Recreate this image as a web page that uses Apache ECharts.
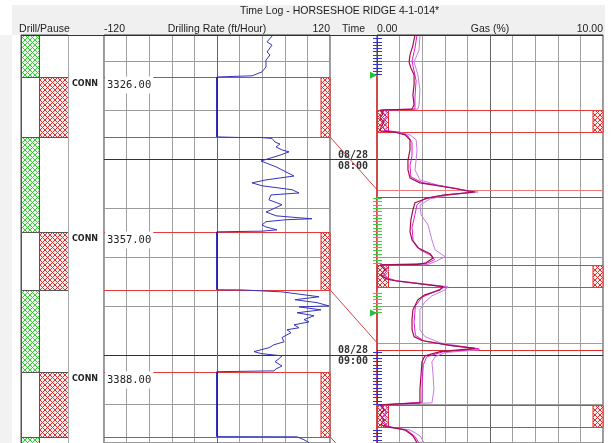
<!DOCTYPE html>
<html><head><meta charset="utf-8">
<script src="https://cdn.jsdelivr.net/npm/echarts@6/dist/echarts.min.js"></script>
<style>html,body{margin:0;padding:0;background:#fff}#c{width:615px;height:443px}</style>
</head><body><div id="c"></div>
<script>
// time axis: minutes after midnight on 08/28
const timeMin = 442, timeMax = 567;
const quarterLines = [450, 465, 495, 510, 525, 555];
const hourLines = [480, 540];
const hourLabels = ['08/28\n08:00', '08/28\n09:00'];
const titleText = 'Time Log - HORSESHOE RIDGE 4-1-014*';

// drill / pause blocks (0 = drilling, 1 = pause)
const blockStart = [442, 454.86, 473.22, 502.3, 520.05, 545.15, 565.05];
const blockEnd   = [454.86, 473.22, 502.3, 520.05, 545.15, 565.05, 567];
const blockKind  = [0, 1, 0, 1, 0, 1, 0];

// connections
const connStart = [454.86, 502.3, 545.15];
const connEnd   = [473.22, 520.05, 565.05];
const connDepth = ['3326.00', '3357.00', '3388.00'];
const connLabel = 'CONN';

// lagged connections in the gas track
const gasConnStart = [465.0, 512.4, 555.3];
const gasConnEnd   = [471.8, 519.1, 562.0];
const lagStart = [489.4, 536.3, 581.3];
const lagEnd   = [491.6, 538.4, 583.5];

// tick segments on the gas track edge (0 = blue, 1 = green)
const tickStart = [442, 491.6, 520.05, 538.4, 563.0];
const tickEnd   = [454.0, 512.2, 527.0, 555.0, 567];
const tickKind  = [0, 1, 1, 0, 0];
const markerTimes = [454.3, 527.2];
const gasEdge = [454.3, 567];

const rateTicks = [-120, 120];
const gasTicks = [0, 10];

// drilling rate (ft/hour, time)
const drillRate = [
 [59.5,442.0],[53.1,444.1],[58.4,445.1],[53.1,447.2],[56.3,448.1],[52.0,449.7],[52.0,451.8],[47.8,453.3],[37.2,454.5],[0,454.86],
 [0,473.22],[23.4,473.4],[46.7,473.4],[58.4,473.7],[61.6,474.8],[66.9,475.4],[62.7,476.3],[69.0,477.2],[76.5,477.8],[68.0,478.7],
 [46.7,480.6],[44.6,481.2],[62.7,482.4],[81.8,485.2],[52.0,486.4],[37.2,487.3],[47.8,488.2],[79.7,489.4],[87.1,490.4],[57.3,491.0],
 [55.2,492.5],[69.0,494.0],[57.3,495.6],[52.0,496.2],[62.7,497.4],[87.1,498.0],[100.9,498.3],[73.3,498.6],[52.0,499.2],[47.8,500.2],
 [52.0,500.8],[63.7,501.7],[47.8,502.1],[0,502.3],
 [0,520.05],[26.6,520.1],[69.0,520.7],[108.3,522.2],[82.8,523.1],[106.2,524.0],[118.9,525.0],[87.1,525.3],[110.4,526.2],[85.0,527.1],
 [103.0,528.0],[92.4,529.2],[97.7,529.9],[81.8,530.8],[87.1,531.7],[74.3,532.3],[78.6,533.2],[69.0,534.7],[71.2,536.0],[60.5,536.9],
 [55.2,537.8],[39.3,539.0],[46.7,539.6],[69.0,540.3],[65.8,541.2],[61.6,542.1],[69.0,543.4],[62.7,544.3],[60.5,544.9],[0,545.15],
 [0,565.05],[85.0,565.1],[92.4,566.0],[97.7,566.9]
];

// gas (% , time)
const gasA = [
 [1.68,442.0],[1.59,445.1],[1.46,448.1],[1.42,450.3],[1.50,452.1],[1.64,454.2],[1.64,457.3],[1.59,460.4],[1.64,463.4],[1.55,464.7],
 [0.13,465.0],[0.27,466.2],[0.13,467.4],[0.31,468.6],[0.18,470.2],[0.13,471.4],[0.80,471.8],[1.24,472.6],[1.46,474.1],[1.46,477.2],
 [1.37,480.3],[1.37,483.3],[1.46,485.8],[1.90,487.3],[3.23,488.8],[4.34,490.1],[3.01,491.0],[2.26,491.9],[1.68,493.4],[1.59,495.6],
 [1.50,498.6],[1.46,502.3],[1.55,504.8],[1.81,507.2],[2.35,509.0],[2.48,510.3],[2.17,511.8],[1.81,512.3],
 [0.13,512.4],[0.35,513.9],[0.18,515.5],[0.40,516.7],[0.80,517.3],[2.92,519.1],[2.79,520.1],[2.12,521.6],[1.81,523.1],[1.59,526.2],
 [1.55,529.2],[1.55,532.3],[1.64,534.4],[1.99,535.6],[3.23,537.1],[4.34,538.0],[2.79,539.0],[2.12,540.3],[1.99,542.1],[1.95,546.1],
 [1.90,550.7],[1.90,554.7],[0.13,555.3],[0.31,556.8],[0.13,558.3],[0.31,559.9],[0.18,561.4],[0.40,562.0],[1.24,563.0],[1.59,564.8],[1.77,566.9]
];
const gasB = [
 [1.90,442.0],[1.86,446.6],[1.64,450.3],[1.81,454.2],[1.90,458.8],[1.86,463.4],[1.81,464.7],[0.35,465.0],[0.49,466.8],[0.31,468.3],
 [0.44,469.9],[0.35,471.4],[1.02,471.8],[1.46,472.6],[1.73,474.1],[1.77,477.2],[1.73,480.3],[1.68,483.3],[1.90,486.4],[2.79,488.2],
 [4.12,489.8],[4.47,490.1],[3.23,491.0],[2.35,492.2],[1.90,494.1],[1.95,497.1],[2.26,500.2],[2.43,504.8],[2.57,507.8],[3.01,509.9],
 [2.65,511.2],[2.26,512.3],[0.35,512.4],[0.53,514.2],[0.35,515.8],[0.58,517.0],[0.93,517.3],[3.14,519.1],[3.01,520.1],[2.43,521.9],
 [2.12,523.8],[1.90,526.2],[1.90,532.3],[2.12,534.4],[2.79,536.3],[4.12,537.8],[4.56,538.4],[3.01,539.3],[2.57,540.6],[2.43,542.1],
 [2.48,546.1],[2.52,550.7],[2.43,554.7],[0.35,555.3],[0.49,557.1],[0.31,558.6],[0.49,560.2],[0.40,562.0],[1.46,563.0],[1.90,564.8],[2.08,566.9]
];
const gasC = [
 [1.77,442],[1.68,446],[1.55,450],[1.64,453],[1.73,456],[1.68,461],[1.68,464.7],[0.2,465],[0.4,467],[0.2,469],[0.35,471.2],[1.0,471.8],
 [1.35,472.8],[1.55,475],[1.55,479],[1.46,482],[1.5,485.5],[2.0,487.2],[3.5,489],[4.2,490.2],[2.9,491.1],[2.1,492.2],[1.77,494],[1.68,497],
 [1.55,501],[1.6,505],[1.9,507.8],[2.4,509.6],[2.55,510.8],[2.2,512],[0.2,512.4],[0.45,514],[0.25,516],[0.9,517.4],[3.0,519.2],[2.6,520.5],
 [2.0,522.3],[1.7,525],[1.64,530],[1.7,534],[2.1,535.8],[3.4,537.3],[4.5,538.1],[2.9,539.1],[2.2,540.6],[2.05,543],[2.0,548],[1.99,554.5],
 [0.2,555.3],[0.4,557.5],[0.2,559.5],[0.45,561.8],[1.35,563.2],[1.68,565],[1.86,567]
];

function hatch(fg, bg) {
  const c = document.createElement('canvas'); c.width = c.height = 5;
  const g = c.getContext('2d');
  g.fillStyle = bg; g.fillRect(0, 0, 5, 5);
  g.strokeStyle = fg; g.lineWidth = 1;
  g.beginPath(); g.moveTo(0, 0); g.lineTo(5, 5); g.moveTo(5, 0); g.lineTo(0, 5); g.stroke();
  return { image: c, repeat: 'repeat' };
}
const greenHatch = hatch('#38c838', '#eefaee');
const redHatch = hatch('#d83030', '#fdeeee');
const FONT = 'Liberation Sans';
const hdr = { fontFamily: FONT, fontSize: 10.5, color: '#222' };

const grids = [
  { left: 21, top: 35, width: 47, height: 408, show: true, backgroundColor: '#fff', borderColor: '#555' },
  { left: 68, top: 35, width: 36, height: 408 },
  { left: 104, top: 35, width: 226, height: 408, show: true, backgroundColor: '#fff', borderColor: '#333' },
  { left: 330, top: 35, width: 47, height: 408 },
  { left: 377, top: 35, width: 226, height: 408, show: true, backgroundColor: '#fff', borderColor: '#333' }
];
const hiddenX = i => ({ gridIndex: i, type: 'value', min: 0, max: 1, show: false });
const nameCommon = { nameLocation: 'middle', nameGap: 0, nameMoveOverlap: false, nameTextStyle: hdr };
const xAxes = [
  Object.assign({ gridIndex: 0, type: 'value', min: 0, max: 1, position: 'top', axisLine: { show: false }, axisTick: { show: false },
    axisLabel: { show: false }, splitLine: { show: false }, name: 'Drill/Pause' }, nameCommon),
  hiddenX(1),
  Object.assign({ gridIndex: 2, type: 'value', min: -120, max: 120, interval: 24, position: 'top', axisLine: { show: false }, axisTick: { show: false },
    splitLine: { show: true, lineStyle: { color: '#a0a0a0' } },
    axisLabel: { show: true, margin: 0, showMinLabel: true, showMaxLabel: true, alignMinLabel: 'left', alignMaxLabel: 'right',
      fontFamily: FONT, fontSize: 10.5, color: '#222', formatter: v => rateTicks.includes(v) ? String(v) : '' },
    name: 'Drilling Rate (ft/Hour)' }, nameCommon),
  Object.assign({ gridIndex: 3, type: 'value', min: 0, max: 1, position: 'top', axisLine: { show: false }, axisTick: { show: false },
    axisLabel: { show: false }, splitLine: { show: false }, name: 'Time' }, nameCommon),
  Object.assign({ gridIndex: 4, type: 'value', min: 0, max: 10, interval: 1, position: 'top', axisLine: { show: false }, axisTick: { show: false },
    splitLine: { show: true, lineStyle: { color: '#a0a0a0' } },
    axisLabel: { show: true, margin: 0, showMinLabel: true, showMaxLabel: true, alignMinLabel: 'left', alignMaxLabel: 'right',
      fontFamily: FONT, fontSize: 10.5, color: '#222', formatter: v => gasTicks.includes(v) ? v.toFixed(2) : '' },
    name: 'Gas (%)' }, nameCommon)
];
const yAxes = [0, 1, 2, 3, 4].map(i => ({ gridIndex: i, type: 'value', inverse: true, min: timeMin, max: timeMax, show: false }));

function gridLines(i, centerX, quarters) {
  const data = [];
  if (quarters) quarterLines.forEach(v => data.push({ yAxis: v, lineStyle: { color: '#9a9a9a' } }));
  hourLines.forEach(v => data.push({ yAxis: v, lineStyle: { color: '#333' } }));
  if (centerX != null) data.push({ xAxis: centerX, lineStyle: { color: '#666' } });
  return { type: 'line', xAxisIndex: i, yAxisIndex: i, data: [], silent: true, z: 1,
    markLine: { silent: true, z: 1, symbol: ['none', 'none'], label: { show: false }, animation: false,
      lineStyle: { type: 'solid', width: 1 }, emphasis: { disabled: true }, data } };
}
const yc = (api, v) => Math.round(api.coord([0, v])[1]) + 0.5;

const series = [
  gridLines(2, 0, true), gridLines(3, null, false), gridLines(4, 5, true),
  { type: 'custom', name: 'Drill/Pause', xAxisIndex: 0, yAxisIndex: 0, clip: true, z: 2,
    data: blockStart.map((s, i) => [s, blockEnd[i], blockKind[i]]),
    renderItem(params, api) {
      const cs = params.coordSys, y0 = yc(api, api.value(0)), y1 = yc(api, api.value(1)), k = api.value(2);
      const x0 = cs.x + 0.5, sp = cs.x + 18.5, x1 = cs.x + cs.width + 0.5;
      return { type: 'group', children: [
        { type: 'rect', shape: { x: x0, y: y0, width: sp - x0, height: y1 - y0 }, style: { fill: k === 0 ? greenHatch : '#fff', stroke: '#555', lineWidth: 1 } },
        { type: 'rect', shape: { x: sp, y: y0, width: x1 - sp, height: y1 - y0 }, style: { fill: k === 1 ? redHatch : '#fff', stroke: '#555', lineWidth: 1 } }
      ] };
    } },
  { type: 'custom', name: 'CONN', xAxisIndex: 1, yAxisIndex: 1, z: 5,
    data: connStart.map((s, i) => [s, connEnd[i]]),
    renderItem(params, api) {
      const cs = params.coordSys;
      return { type: 'text', style: { text: connLabel, x: cs.x + 4, y: yc(api, api.value(0)) + 6, verticalAlign: 'middle',
        font: 'bold 8px "DejaVu Sans"', fill: '#222' } };
    } },
  { type: 'custom', name: 'Connections', xAxisIndex: 2, yAxisIndex: 2, z: 2,
    data: connStart.map((s, i) => [s, connEnd[i]]),
    renderItem(params, api) {
      const cs = params.coordSys, y0 = yc(api, api.value(0)), y1 = yc(api, api.value(1));
      const x0 = cs.x, x1 = cs.x + cs.width;
      return { type: 'group', children: [
        { type: 'rect', shape: { x: x1 - 9, y: y0, width: 9, height: y1 - y0 }, style: { fill: redHatch, stroke: '#e02828', lineWidth: 1 } },
        { type: 'line', shape: { x1: x0, y1: y0, x2: x1, y2: y0 }, style: { stroke: '#e83a3a', lineWidth: 1 } },
        { type: 'line', shape: { x1: x0, y1: y1, x2: x1, y2: y1 }, style: { stroke: '#e83a3a', lineWidth: 1 } }
      ] };
    } },
  { type: 'line', name: 'Drilling Rate', xAxisIndex: 2, yAxisIndex: 2, data: drillRate, showSymbol: false, z: 3, clip: true,
    lineStyle: { color: '#3434bc', width: 1 }, itemStyle: { color: '#3434bc' } },
  { type: 'custom', name: 'Connection Rate', xAxisIndex: 2, yAxisIndex: 2, z: 4,
    data: connStart.map((s, i) => [0, s, connEnd[i]]),
    renderItem(params, api) {
      const x = api.coord([api.value(0), api.value(1)])[0];
      return { type: 'line', shape: { x1: x, y1: api.coord([0, api.value(1)])[1], x2: x, y2: api.coord([0, api.value(2)])[1] },
        style: { stroke: '#1a1aa8', lineWidth: 1.6 } };
    } },
  { type: 'custom', name: 'Depth', xAxisIndex: 2, yAxisIndex: 2, z: 6,
    data: connStart.map((s, i) => [s, connEnd[i]]),
    renderItem(params, api) {
      const cs = params.coordSys;
      return { type: 'text', style: { text: connDepth[params.dataIndex], x: cs.x + 1, y: yc(api, api.value(0)) - 1,
        verticalAlign: 'top', font: '10.5px "DejaVu Sans Mono"', fill: '#222', backgroundColor: '#fff', padding: [3, 2, 3, 2] } };
    } },
  { type: 'custom', name: 'Lag', xAxisIndex: 3, yAxisIndex: 3, z: 2, clip: true,
    data: connEnd.map((s, i) => [s, lagStart[i]]),
    renderItem(params, api) {
      const cs = params.coordSys;
      return { type: 'line', shape: { x1: cs.x, y1: api.coord([0, api.value(0)])[1], x2: cs.x + cs.width, y2: api.coord([0, api.value(1)])[1] },
        style: { stroke: '#d24646', lineWidth: 1 } };
    } },
  { type: 'custom', name: 'Hours', xAxisIndex: 3, yAxisIndex: 3, z: 6,
    data: hourLines.map(v => [v]),
    renderItem(params, api) {
      const cs = params.coordSys;
      return { type: 'text', style: { text: hourLabels[params.dataIndex], x: cs.x + 8, y: api.coord([0, api.value(0)])[1] + 1.5,
        verticalAlign: 'middle', font: 'bold 10px "DejaVu Sans Mono"', lineHeight: 11, fill: '#333' } };
    } },
  { type: 'custom', name: 'Gas Connections', xAxisIndex: 4, yAxisIndex: 4, z: 2,
    data: gasConnStart.map((s, i) => [s, gasConnEnd[i]]),
    renderItem(params, api) {
      const cs = params.coordSys, y0 = yc(api, api.value(0)), y1 = yc(api, api.value(1));
      const x0 = cs.x, x1 = cs.x + cs.width;
      return { type: 'group', children: [
        { type: 'rect', shape: { x: x0 + 0.5, y: y0, width: 11, height: y1 - y0 }, style: { fill: redHatch, stroke: '#e02828', lineWidth: 1 } },
        { type: 'rect', shape: { x: x1 - 10, y: y0, width: 10, height: y1 - y0 }, style: { fill: redHatch, stroke: '#e02828', lineWidth: 1 } },
        { type: 'line', shape: { x1: x0, y1: y0, x2: x1, y2: y0 }, style: { stroke: '#e83a3a', lineWidth: 1 } },
        { type: 'line', shape: { x1: x0, y1: y1, x2: x1, y2: y1 }, style: { stroke: '#e83a3a', lineWidth: 1 } }
      ] };
    } },
  { type: 'custom', name: 'Lag Marks', xAxisIndex: 4, yAxisIndex: 4, z: 2, clip: true,
    data: lagStart.map((s, i) => [s, lagEnd[i]]),
    renderItem(params, api) {
      const cs = params.coordSys, y0 = yc(api, api.value(0)), y1 = yc(api, api.value(1));
      return { type: 'group', children: [
        { type: 'line', shape: { x1: cs.x, y1: y0, x2: cs.x + cs.width, y2: y0 }, style: { stroke: '#ee7a7a', lineWidth: 1 } },
        { type: 'line', shape: { x1: cs.x, y1: y1, x2: cs.x + cs.width, y2: y1 }, style: { stroke: '#de2e2e', lineWidth: 1 } }
      ] };
    } },
  { type: 'line', name: 'Edge', xAxisIndex: 4, yAxisIndex: 4, data: gasEdge.map(v => [0, v]), showSymbol: false, z: 2,
    lineStyle: { color: '#e03030', width: 1.5 }, silent: true },
  { type: 'line', name: 'Gas 3', xAxisIndex: 4, yAxisIndex: 4, data: gasB, showSymbol: false, z: 3, clip: true,
    lineStyle: { color: '#c978ea', width: 1 } },
  { type: 'line', name: 'Gas 2', xAxisIndex: 4, yAxisIndex: 4, data: gasC, showSymbol: false, z: 3, clip: true,
    lineStyle: { color: '#e018d8', width: 1 } },
  { type: 'line', name: 'Gas 1', xAxisIndex: 4, yAxisIndex: 4, data: gasA, showSymbol: false, z: 3, clip: true,
    lineStyle: { color: '#a01048', width: 1.2 } },
  { type: 'custom', name: 'Ticks', xAxisIndex: 4, yAxisIndex: 4, z: 4,
    data: tickStart.map((s, i) => [s, tickEnd[i], tickKind[i]]),
    renderItem(params, api) {
      const cs = params.coordSys, s = api.value(0), e = api.value(1);
      const col = api.value(2) === 0 ? '#3434d2' : '#3ed23e';
      const ch = [];
      for (let t = Math.ceil(s); t <= e; t += 1) {
        const y = yc(api, t);
        ch.push({ type: 'line', shape: { x1: cs.x - 4, y1: y, x2: cs.x + 5, y2: y }, style: { stroke: col, lineWidth: 1 } });
      }
      ch.push({ type: 'line', shape: { x1: cs.x + 0.5, y1: api.coord([0, s])[1], x2: cs.x + 0.5, y2: api.coord([0, e])[1] }, style: { stroke: col, lineWidth: 1 } });
      return { type: 'group', children: ch };
    } },
  { type: 'custom', name: 'Markers', xAxisIndex: 4, yAxisIndex: 4, z: 5,
    data: markerTimes.map(v => [v]),
    renderItem(params, api) {
      const cs = params.coordSys, y = api.coord([0, api.value(0)])[1];
      return { type: 'polygon', shape: { points: [[cs.x - 7, y - 3.5], [cs.x, y], [cs.x - 7, y + 3.5]] }, style: { fill: '#22c03a' } };
    } }
];

const chart = echarts.init(document.getElementById('c'), null, { renderer: 'canvas' });
chart.setOption({
  animation: false,
  backgroundColor: '#fff',
  title: { text: titleText, left: 240, top: 6, padding: 0, textStyle: { fontFamily: FONT, fontSize: 10.5, fontWeight: 'normal', color: '#222' } },
  graphic: [
    { type: 'rect', z: -10, silent: true, shape: { x: 12, y: 5, width: 593, height: 30 }, style: { fill: '#f0f0f0' } },
    { type: 'rect', z: -10, silent: true, shape: { x: 0, y: 35, width: 12, height: 408 }, style: { fill: '#f2f2f2' } },
    { type: 'line', z: 100, silent: true, shape: { x1: 21, y1: 35.5, x2: 603, y2: 35.5 }, style: { stroke: '#333', lineWidth: 1 } }
  ],
  grid: grids, xAxis: xAxes, yAxis: yAxes, series
});
</script></body></html>
